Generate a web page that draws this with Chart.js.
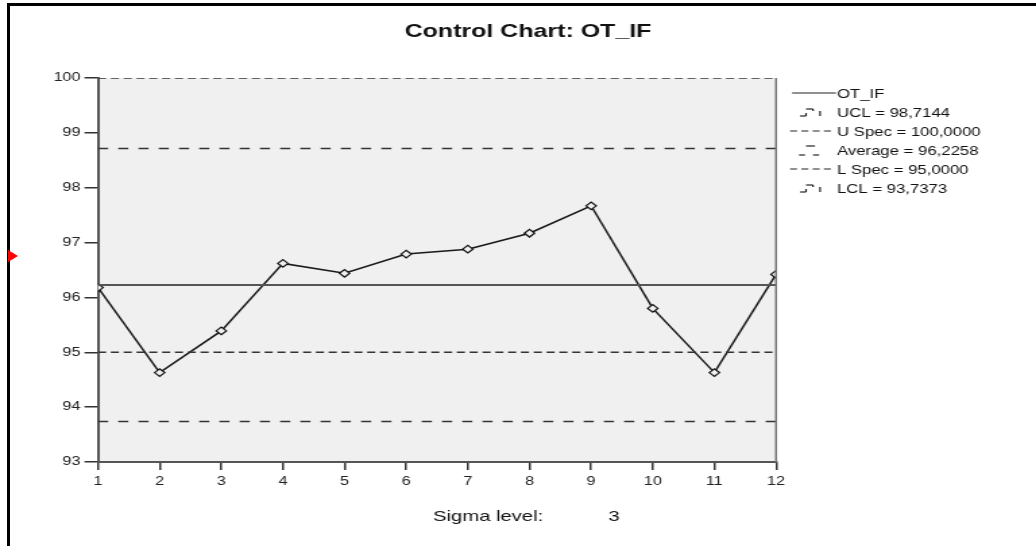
<!DOCTYPE html>
<html>
<head>
<meta charset="utf-8">
<script src="https://cdn.jsdelivr.net/npm/chart.js@4"></script>
<style>
  body { margin: 0; background: #fff; }
  #wrap { position: relative; width: 1036px; height: 546px; overflow: hidden; background: #fff; }
  #frame { position: absolute; left: 7px; top: 3px; width: 1100px; height: 600px; border-top: 3px solid #000; border-left: 3px solid #000; }
  #marker { position: absolute; left: 8px; top: 250px; width: 0; height: 0; border-left: 10px solid #f00; border-top: 6.5px solid transparent; border-bottom: 6.5px solid transparent; }
  #stretch { position: absolute; left: 0; top: 0; width: 768px; height: 546px; transform: scaleX(1.349); transform-origin: 0 0; }
</style>
</head>
<body>
<div id="wrap">
  <div id="frame"></div>
  <div id="stretch"><canvas id="chart" width="768" height="546"></canvas></div>
  <div id="marker"></div>
</div>
<script>
// the source picture is stretched sideways, so the chart is drawn narrow and scaled
const S = 1036 / 768;

const samples = [1, 2, 3, 4, 5, 6, 7, 8, 9, 10, 11, 12];
const otIf = [96.18, 94.63, 95.39, 96.62, 96.44, 96.79, 96.88, 97.17, 97.67, 95.80, 94.63, 96.42];
const yTicks = [93, 94, 95, 96, 97, 98, 99, 100];

const ucl = 98.7144;
const uSpec = 100.0;
const average = 96.2258;
const lSpec = 95.0;
const lcl = 93.7373;
const sigmaLevel = 3;

const fmt = (v) => v.toFixed(4).replace(".", ",");
const flat = (v) => [{ x: samples[0], y: v }, { x: samples[samples.length - 1], y: v }];
const FONT = '"Liberation Sans", Arial, sans-serif';

// legend rows: label, kind of symbol
const legendRows = [
  { text: "OT_IF", kind: "solid" },
  { text: "UCL = " + fmt(ucl), kind: "step" },
  { text: "U Spec = " + fmt(uSpec), kind: "dash" },
  { text: "Average = " + fmt(average), kind: "avg" },
  { text: "L Spec = " + fmt(lSpec), kind: "dash" },
  { text: "LCL = " + fmt(lcl), kind: "step" },
];

function seg(ctx, x1, y1, x2, y2) {
  ctx.beginPath();
  ctx.moveTo(x1 / S, y1);
  ctx.lineTo(x2 / S, y2);
  ctx.stroke();
}

const decor = {
  id: "decor",
  beforeDraw(chart) {
    const { ctx, chartArea: a } = chart;
    ctx.save();
    ctx.fillStyle = "#f0f0f0";
    ctx.fillRect(a.left, a.top, a.right - a.left, a.bottom - a.top);
    ctx.restore();
  },
  afterDraw(chart) {
    const { ctx, chartArea: a } = chart;
    ctx.save();
    // right edge of plot
    ctx.strokeStyle = "#777";
    ctx.lineWidth = 1.5;
    ctx.beginPath();
    ctx.moveTo(a.right, a.top);
    ctx.lineTo(a.right, a.bottom);
    ctx.stroke();

    // title
    ctx.fillStyle = "#111";
    ctx.textAlign = "center";
    ctx.textBaseline = "alphabetic";
    ctx.font = "bold 18.5px " + FONT;
    ctx.fillText("Control Chart: OT_IF", 528 / S, 37);

    // sigma level
    ctx.font = "15px " + FONT;
    ctx.textAlign = "left";
    ctx.fillText("Sigma level:", 433 / S, 521);
    ctx.textAlign = "center";
    ctx.fillText(String(sigmaLevel), 614 / S, 521);

    // legend
    ctx.font = "12.4px " + FONT;
    ctx.textAlign = "left";
    ctx.strokeStyle = "#222";
    legendRows.forEach((row, i) => {
      const y = 93 + i * 19;
      ctx.lineWidth = 1.2;
      ctx.setLineDash([]);
      if (row.kind === "solid") {
        seg(ctx, 792, y, 836, y);
      } else if (row.kind === "dash") {
        ctx.setLineDash([7 / S, 4.3 / S]);
        seg(ctx, 790, y, 835, y);
        ctx.setLineDash([]);
      } else if (row.kind === "step") {
        seg(ctx, 800, y + 4, 806, y + 4);
        seg(ctx, 806, y + 1, 806, y + 4);
        seg(ctx, 806, y - 3, 813, y - 3);
        seg(ctx, 813, y - 3, 813, y - 1);
        seg(ctx, 820, y - 1, 820, y + 4);
      } else if (row.kind === "avg") {
        seg(ctx, 806, y - 4, 815, y - 4);
        seg(ctx, 799, y + 5, 805, y + 5);
        seg(ctx, 813, y + 5, 819, y + 5);
      }
      ctx.fillStyle = "#111";
      ctx.fillText(row.text, 837 / S, y + 4.5);
    });
    ctx.restore();
  },
};

const ctx = document.getElementById("chart").getContext("2d");
new Chart(ctx, {
  type: "line",
  data: {
    datasets: [
      { label: "U Spec", data: flat(uSpec), borderColor: "#333", borderWidth: 1.5, borderDash: [6, 3.5], pointRadius: 0 },
      { label: "UCL", data: flat(ucl), borderColor: "#333", borderWidth: 1.5, borderDash: [7.5, 7.5], pointRadius: 0 },
      { label: "Average", data: flat(average), borderColor: "#555", borderWidth: 2, pointRadius: 0 },
      { label: "L Spec", data: flat(lSpec), borderColor: "#333", borderWidth: 1.5, borderDash: [6, 3.5], pointRadius: 0 },
      { label: "LCL", data: flat(lcl), borderColor: "#333", borderWidth: 1.5, borderDash: [7.5, 7.5], pointRadius: 0 },
      {
        label: "OT_IF",
        data: otIf.map((v, i) => ({ x: samples[i], y: v })),
        borderColor: "#1a1a1a",
        borderWidth: 1.5,
        tension: 0,
        pointStyle: "rectRot",
        pointRadius: 3.8,
        pointBorderWidth: 1.2,
        pointBorderColor: "#111",
        pointBackgroundColor: "#f0f0f0",
      },
    ],
  },
  options: {
    responsive: false,
    animation: false,
    events: [],
    layout: { padding: { left: 98 / S - 40, right: 768 - 776 / S, top: 78, bottom: 54 } },
    plugins: { legend: { display: false }, tooltip: { enabled: false }, title: { display: false } },
    scales: {
      x: {
        type: "linear",
        min: samples[0],
        max: samples[samples.length - 1],
        afterFit: (s) => { s.height = 30; },
        ticks: { stepSize: 1, padding: 4, color: "#222", font: { family: FONT, size: 12 } },
        grid: { drawOnChartArea: false, drawTicks: true, tickLength: 8, color: "#333", lineWidth: 1.5 },
        border: { display: true, color: "#555", width: 2 },
      },
      y: {
        min: yTicks[0],
        max: yTicks[yTicks.length - 1],
        afterFit: (s) => { s.width = 40; },
        afterBuildTicks: (s) => { s.ticks = yTicks.map((v) => ({ value: v })); },
        ticks: { padding: 3, color: "#222", font: { family: FONT, size: 12 } },
        grid: { drawOnChartArea: false, drawTicks: true, tickLength: 10, color: "#333", lineWidth: 1.5 },
        border: { display: true, color: "#555", width: 2 },
      },
    },
  },
  plugins: [decor],
});
</script>
</body>
</html>
